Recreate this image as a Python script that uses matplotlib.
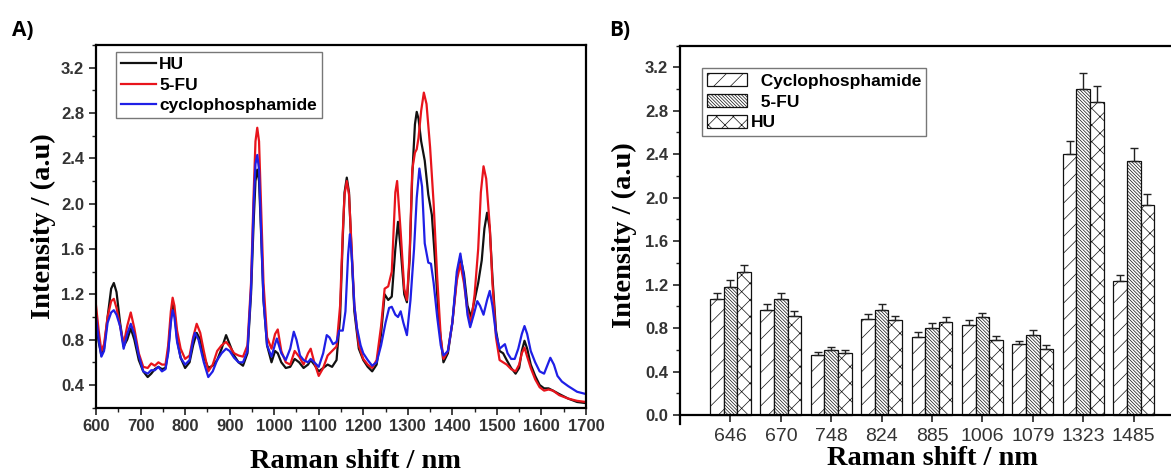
import numpy as np
import matplotlib.pyplot as plt
from matplotlib.ticker import MultipleLocator

# ---- Panel A: Raman spectra ----
hu_x = [600, 606, 612, 618, 626, 634, 640, 646, 654, 662, 670, 678, 686, 696, 706, 716, 724, 732, 740, 748,
        756, 762, 768, 772, 776, 782, 790, 800, 810, 818, 826, 834, 842, 852, 862, 872, 882, 892, 900, 910,
        920, 930, 940, 948, 954, 958, 962, 966, 970, 976, 984, 994, 1002, 1008, 1016, 1026, 1036, 1046, 1056,
        1066, 1076, 1082, 1090, 1100, 1110, 1120, 1130, 1140, 1148, 1154, 1158, 1163, 1168, 1174, 1180, 1190,
        1200, 1210, 1220, 1230, 1240, 1248, 1256, 1264, 1272, 1278, 1284, 1292, 1298, 1304, 1310, 1316, 1320,
        1324, 1330, 1338, 1346, 1354, 1362, 1370, 1380, 1390, 1400, 1410, 1418, 1426, 1434, 1442, 1450, 1458,
        1466, 1472, 1478, 1484, 1490, 1498, 1506, 1514, 1522, 1532, 1542, 1550, 1556, 1562, 1568, 1576, 1586,
        1596, 1606, 1616, 1626, 1640, 1660, 1680, 1700]
hu_y = [0.95, 0.78, 0.66, 0.72, 1.00, 1.25, 1.30, 1.22, 0.95, 0.74, 0.80, 0.90, 0.80, 0.62, 0.52, 0.47, 0.50,
        0.54, 0.56, 0.54, 0.55, 0.70, 0.98, 1.12, 1.05, 0.80, 0.64, 0.55, 0.60, 0.75, 0.86, 0.80, 0.65, 0.55,
        0.57, 0.62, 0.72, 0.84, 0.76, 0.66, 0.60, 0.57, 0.68, 1.20, 1.85, 2.20, 2.30, 2.20, 1.80, 1.15, 0.75,
        0.60, 0.70, 0.68, 0.60, 0.55, 0.56, 0.63, 0.60, 0.55, 0.58, 0.62, 0.58, 0.52, 0.55, 0.58, 0.56, 0.62,
        1.00, 1.70, 2.10, 2.23, 2.10, 1.55, 1.05, 0.72, 0.62, 0.56, 0.52, 0.58, 0.85, 1.20, 1.15, 1.18, 1.60,
        1.84, 1.60, 1.20, 1.13, 1.50, 2.25, 2.70, 2.81, 2.75, 2.55, 2.38, 2.08, 1.90, 1.45, 0.95, 0.60, 0.68,
        0.95, 1.35, 1.53, 1.38, 1.10, 1.00, 1.15, 1.30, 1.50, 1.78, 1.92, 1.78, 1.35, 0.88, 0.70, 0.68, 0.62,
        0.55, 0.50, 0.55, 0.70, 0.79, 0.72, 0.58, 0.48, 0.40, 0.37, 0.37, 0.35, 0.32, 0.28, 0.25, 0.24]

fu_x = [600, 606, 612, 618, 626, 634, 640, 646, 654, 662, 670, 678, 686, 696, 706, 716, 724, 732, 740, 748,
        756, 762, 768, 772, 776, 782, 790, 800, 810, 818, 826, 834, 842, 852, 862, 872, 882, 892, 900, 910,
        920, 930, 940, 948, 954, 958, 962, 966, 970, 976, 984, 994, 1002, 1008, 1016, 1026, 1036, 1046, 1056,
        1066, 1076, 1082, 1090, 1100, 1110, 1120, 1130, 1140, 1148, 1154, 1158, 1163, 1168, 1174, 1180, 1190,
        1200, 1210, 1220, 1230, 1240, 1248, 1256, 1264, 1272, 1276, 1284, 1292, 1298, 1304, 1310, 1316, 1320,
        1324, 1330, 1336, 1342, 1350, 1358, 1366, 1374, 1380, 1390, 1400, 1410, 1418, 1426, 1434, 1442, 1450,
        1458, 1464, 1470, 1476, 1484, 1490, 1498, 1506, 1514, 1522, 1532, 1542, 1550, 1556, 1562, 1568, 1576,
        1586, 1596, 1606, 1616, 1626, 1640, 1660, 1680, 1700]
fu_y = [1.10, 0.88, 0.70, 0.76, 1.00, 1.14, 1.16, 1.08, 0.92, 0.76, 0.92, 1.04, 0.90, 0.68, 0.56, 0.55, 0.59,
        0.57, 0.60, 0.58, 0.58, 0.75, 1.05, 1.17, 1.10, 0.88, 0.72, 0.63, 0.66, 0.82, 0.94, 0.86, 0.70, 0.52,
        0.58, 0.70, 0.75, 0.78, 0.74, 0.68, 0.66, 0.65, 0.75, 1.30, 2.10, 2.55, 2.67, 2.55, 2.05, 1.30, 0.82,
        0.72, 0.85, 0.89, 0.70, 0.60, 0.58, 0.70, 0.65, 0.58, 0.68, 0.72, 0.60, 0.48, 0.55, 0.66, 0.70, 0.74,
        1.10, 1.75, 2.08, 2.20, 2.08, 1.60, 1.10, 0.75, 0.63, 0.58, 0.55, 0.62, 0.92, 1.25, 1.27, 1.40, 2.10,
        2.20, 1.75, 1.25, 1.15, 1.55, 2.30, 2.45, 2.48, 2.58, 2.82, 2.98, 2.88, 2.50, 2.00, 1.35, 0.82, 0.63,
        0.70, 0.95, 1.32, 1.47, 1.30, 1.05, 0.95, 1.20, 1.60, 2.10, 2.33, 2.22, 1.80, 1.30, 0.82, 0.62, 0.60,
        0.58, 0.54, 0.52, 0.58, 0.68, 0.73, 0.65, 0.55, 0.45, 0.38, 0.35, 0.36, 0.35, 0.31, 0.28, 0.26, 0.25]

cp_x = [600, 606, 612, 618, 626, 634, 640, 646, 654, 662, 670, 678, 686, 696, 706, 716, 724, 732, 740, 748,
        756, 762, 768, 772, 776, 782, 790, 800, 810, 818, 822, 830, 842, 852, 862, 872, 882, 892, 900, 910,
        920, 930, 940, 948, 954, 958, 962, 966, 970, 976, 984, 994, 1002, 1006, 1016, 1026, 1036, 1044, 1050,
        1058, 1066, 1076, 1082, 1090, 1100, 1110, 1118, 1124, 1132, 1140, 1146, 1154, 1160, 1166, 1170, 1174,
        1180, 1186, 1194, 1200, 1210, 1220, 1230, 1240, 1250, 1258, 1264, 1272, 1278, 1284, 1290, 1298, 1306,
        1314, 1320, 1326, 1332, 1338, 1346, 1352, 1358, 1366, 1374, 1380, 1390, 1400, 1410, 1418, 1426, 1434,
        1440, 1448, 1456, 1462, 1470, 1478, 1484, 1490, 1498, 1506, 1512, 1518, 1524, 1532, 1540, 1548, 1556,
        1562, 1568, 1576, 1586, 1596, 1606, 1614, 1620, 1628, 1636, 1646, 1660, 1680, 1700]
cp_y = [1.00, 0.80, 0.65, 0.70, 0.95, 1.04, 1.06, 1.02, 0.92, 0.72, 0.85, 0.94, 0.85, 0.66, 0.52, 0.50, 0.53,
        0.53, 0.56, 0.52, 0.54, 0.68, 0.95, 1.06, 1.00, 0.78, 0.64, 0.58, 0.62, 0.80, 0.86, 0.80, 0.60, 0.47,
        0.52, 0.62, 0.68, 0.72, 0.70, 0.64, 0.60, 0.60, 0.70, 1.25, 2.00, 2.35, 2.43, 2.30, 1.85, 1.15, 0.75,
        0.65, 0.76, 0.81, 0.68, 0.62, 0.72, 0.87, 0.80, 0.66, 0.62, 0.60, 0.63, 0.60, 0.56, 0.68, 0.84, 0.82,
        0.76, 0.78, 0.88, 0.88, 1.05, 1.55, 1.73, 1.55, 1.10, 0.90, 0.75, 0.68, 0.62, 0.57, 0.60, 0.75, 0.95,
        1.08, 1.09, 1.02, 1.00, 1.05, 0.95, 0.84, 1.15, 1.60, 2.05, 2.31, 2.15, 1.65, 1.48, 1.47, 1.30, 1.00,
        0.75, 0.66, 0.70, 0.95, 1.40, 1.56, 1.35, 1.02, 0.91, 1.02, 1.14, 1.10, 1.02, 1.15, 1.23, 1.10, 0.85,
        0.72, 0.74, 0.76, 0.68, 0.63, 0.63, 0.72, 0.85, 0.92, 0.85, 0.70, 0.60, 0.52, 0.50, 0.58, 0.64, 0.58,
        0.48, 0.43, 0.39, 0.34, 0.32]

# ---- Panel B: peak intensities ----
peaks = ['646', '670', '748', '824', '885', '1006', '1079', '1323', '1485']
cyclo_vals = [1.07, 0.97, 0.55, 0.88, 0.72, 0.83, 0.65, 2.40, 1.23]
cyclo_err = [0.05, 0.05, 0.03, 0.05, 0.04, 0.04, 0.03, 0.12, 0.06]
fu_vals = [1.18, 1.07, 0.60, 0.97, 0.80, 0.90, 0.74, 3.00, 2.34]
fu_err = [0.06, 0.055, 0.03, 0.05, 0.045, 0.04, 0.04, 0.15, 0.12]
hu_vals = [1.32, 0.91, 0.57, 0.87, 0.86, 0.69, 0.61, 2.88, 1.93]
hu_err = [0.065, 0.045, 0.03, 0.045, 0.045, 0.04, 0.035, 0.15, 0.10]

plt.rcParams['hatch.linewidth'] = 0.5
tick_font = dict(family='Liberation Sans', weight='bold', size=12)
label_font = dict(family='Liberation Serif', weight='bold', size=20.5)

fig = plt.figure(figsize=(11.71, 4.74), dpi=100)

# Panel A
ax1 = fig.add_axes([0.082, 0.140, 0.4184, 0.765])
ax1.plot(hu_x, hu_y, color='#111111', lw=1.6, label='HU')
ax1.plot(fu_x, fu_y, color='#e8141c', lw=1.6, label='5-FU')
ax1.plot(cp_x, cp_y, color='#1f1fe6', lw=1.6, label='cyclophosphamide')
ax1.set_xlim(600, 1700)
ax1.set_ylim(0.2, 3.4)
ax1.xaxis.set_major_locator(MultipleLocator(100))
ax1.xaxis.set_minor_locator(MultipleLocator(50))
ax1.yaxis.set_minor_locator(MultipleLocator(0.2))
ax1.set_yticks([0.4, 0.8, 1.2, 1.6, 2.0, 2.4, 2.8, 3.2])
ax1.tick_params(which='major', direction='out', length=5, width=1.2, colors='#222222')
ax1.tick_params(which='minor', direction='out', length=3, width=1.0, colors='#222222')
for lab in ax1.get_xticklabels() + ax1.get_yticklabels():
    lab.set(**tick_font)
    lab.set_color('#333333')
for sp in ax1.spines.values():
    sp.set_linewidth(1.6)
ax1.set_xlabel('Raman shift / nm', **label_font)
ax1.xaxis.set_label_coords(0.529, -0.115)
ax1.set_ylabel('Intensity / (a.u)', labelpad=4, **label_font)
leg1 = ax1.legend(loc='upper left', bbox_to_anchor=(0.040, 0.981), fancybox=False, borderaxespad=0,
                  prop=dict(family='Liberation Sans', weight='bold', size=12.5),
                  handlelength=2.0, handletextpad=0.2, labelspacing=0.3, borderpad=0.3)
leg1.get_frame().set_edgecolor('#555555')
leg1.get_frame().set_linewidth(1.0)

# Panel B
ax2 = fig.add_axes([0.5807, 0.106, 0.4193, 0.798])
pos = np.arange(1, len(peaks) + 1)
w = 0.27
groups = [(cyclo_vals, cyclo_err, '//', '  Cyclophosphamide'),
          (fu_vals, fu_err, '\\' * 10, '  5-FU'),
          (hu_vals, hu_err, 'xx', 'HU')]
for i, (vals, err, hatch, name) in enumerate(groups):
    xs = pos + (i - 1) * w
    ax2.bar(xs, vals, width=w, facecolor='white', edgecolor='#111111', hatch=hatch, lw=0.9, label=name)
    ax2.errorbar(xs, vals, yerr=[np.zeros(len(vals)), err], fmt='none', ecolor='#222222',
                 elinewidth=1.0, capsize=3, capthick=1.0)
ax2.set_xlim(0.0, 9.74)
ax2.set_ylim(-0.08, 3.4)
ax2.spines['bottom'].set_position(('data', 0))
ax2.spines['right'].set_visible(False)
for sp in ax2.spines.values():
    sp.set_linewidth(1.6)
ax2.set_xticks(pos)
ax2.set_xticklabels(peaks, family='Liberation Sans', size=14, color='#333333')
ax2.set_yticks([0.0, 0.4, 0.8, 1.2, 1.6, 2.0, 2.4, 2.8, 3.2])
ax2.set_yticklabels(['0.0', '0.4', '0.8', '1.2', '1.6', '2.0', '2.4', '2.8', '3.2'], **tick_font)
for lab in ax2.get_yticklabels():
    lab.set_color('#333333')
ax2.yaxis.set_minor_locator(MultipleLocator(0.2))
ax2.tick_params(which='major', direction='out', length=5, width=1.2, colors='#222222')
ax2.tick_params(which='minor', direction='out', length=3, width=1.0, colors='#222222')
ax2.tick_params(axis='x', labelcolor='#333333', pad=4)
ax2.tick_params(axis='y', labelcolor='#333333')
ax2.set_xlabel('Raman shift / nm', **label_font)
ax2.xaxis.set_label_coords(0.515, -0.058)
ax2.set_ylabel('Intensity / (a.u)', labelpad=6, **label_font)
leg2 = ax2.legend(loc='upper left', bbox_to_anchor=(0.045, 0.941), fancybox=False, borderaxespad=0,
                  prop=dict(family='Liberation Sans', weight='bold', size=12.5),
                  handlelength=2.3, handleheight=0.8, handletextpad=0.2, labelspacing=0.3,
                  borderpad=0.3)
leg2.get_frame().set_edgecolor('#555555')
leg2.get_frame().set_linewidth(1.0)

fig.text(0.010, 0.925, 'A)', family='Open Sans', weight='bold', size=15)
fig.text(0.520, 0.925, 'B)', family='Open Sans', weight='bold', size=15)

fig.savefig('out.png', dpi=100)
